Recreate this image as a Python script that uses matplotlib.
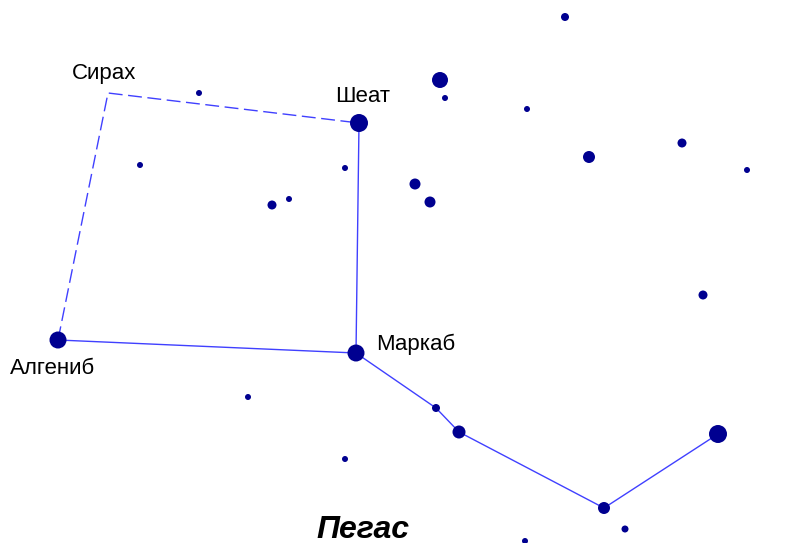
import matplotlib
matplotlib.use("Agg")
import matplotlib.pyplot as plt

# star chart coordinates (x to the right, y downward) and radii
star_x = [359, 356, 58, 199, 140, 345, 272, 289, 565, 440, 445, 527, 589, 682,
          747, 415, 430, 248, 436, 459, 345, 703, 718, 604, 625, 525]
star_y = [123, 353, 340, 93, 165, 168, 205, 199, 17, 80, 98, 109, 157, 143,
          170, 184, 202, 397, 408, 432, 459, 295, 434, 508, 529, 541]
star_r = [9, 8.5, 8.5, 3, 3, 3, 4.5, 3, 4, 8, 3, 3, 6, 4.5,
          3, 5.5, 5.5, 3, 4, 6.5, 3, 4.5, 9, 6, 3.5, 3]

# asterism: solid and dashed polylines (x, y)
solid_a_x = [359, 356, 58]
solid_a_y = [123, 353, 340]
solid_b_x = [356, 436, 459, 604, 718]
solid_b_y = [353, 408, 432, 508, 434]
dash_x = [58, 108, 359]
dash_y = [340, 93, 123]

labels = ["Сирах", "Шеат", "Маркаб", "Алгениб"]
label_x = [104, 363, 416, 53]
label_y = [74, 96, 344, 368]
title = "Пегас"

plt.rcParams['font.family'] = ['Liberation Sans', 'DejaVu Sans']

fig = plt.figure(figsize=(7.87, 5.43), dpi=100)
ax = fig.add_axes([0, 0, 1, 1])
ax.set_xlim(0, 787)
ax.set_ylim(543, 0)
ax.axis("off")

line_c = "#4040ff"
ax.plot(solid_a_x, solid_a_y, color=line_c, lw=1.0, zorder=1)
ax.plot(solid_b_x, solid_b_y, color=line_c, lw=1.0, zorder=1)
ax.plot(dash_x, dash_y, color=line_c, lw=1.0, dashes=(10, 4), zorder=1)

sizes = [(1.44 * r) ** 2 for r in star_r]
ax.scatter(star_x, star_y, s=sizes, color="#000090", edgecolors="none", zorder=2)

for t, x, y in zip(labels, label_x, label_y):
    ax.text(x, y, t, fontsize=16, ha="center", va="center", color="black")

ax.text(363, 538, title, fontsize=23, fontweight="bold", fontstyle="italic",
        ha="center", va="baseline", color="black")

fig.savefig("out.png", dpi=100)
